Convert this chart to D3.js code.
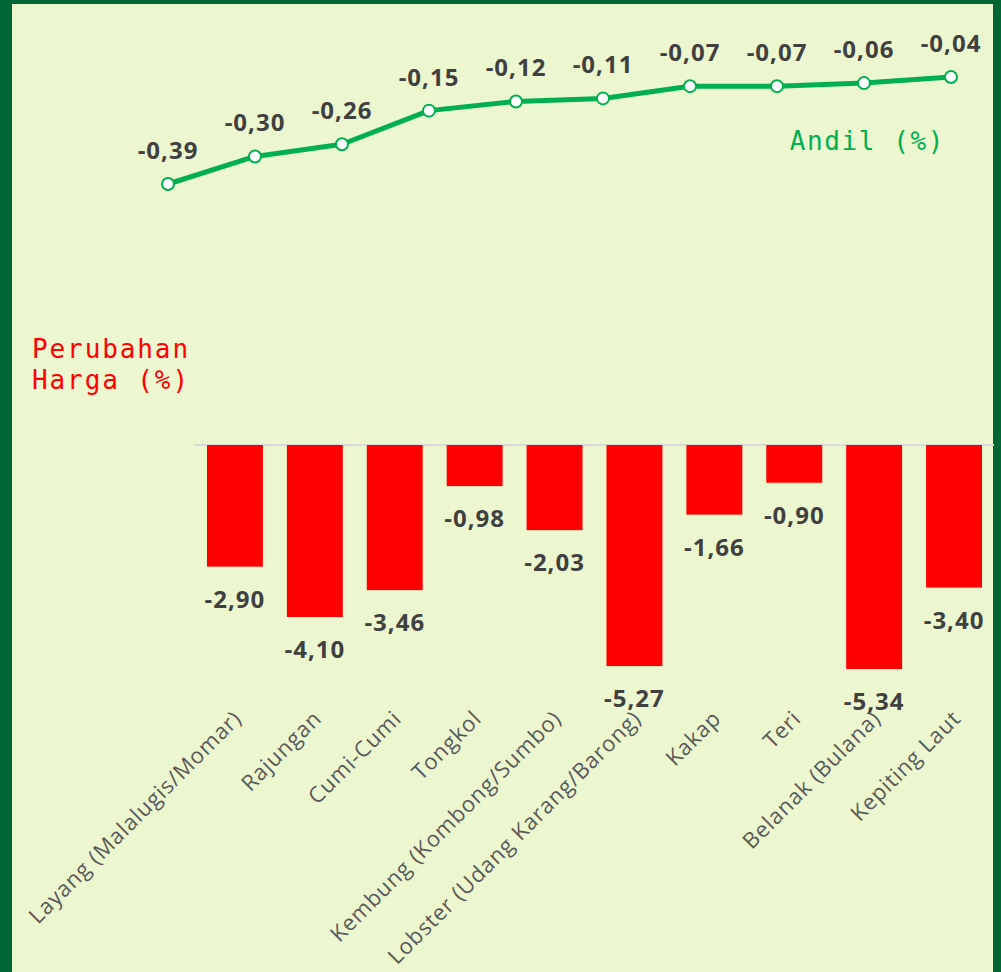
<!DOCTYPE html>
<html>
<head>
<meta charset="utf-8">
<script src="https://cdn.jsdelivr.net/npm/d3@7"></script>
<style>
  body { margin: 0; background: #006633; }
  svg { display: block; }
</style>
</head>
<body>
<div id="chart"></div>
<script>
(function() {
    // Data
    var categories = ["Layang (Malalugis/Momar)", "Rajungan", "Cumi-Cumi", "Tongkol",
        "Kembung (Kombong/Sumbo)", "Lobster (Udang Karang/Barong)", "Kakap", "Teri",
        "Belanak (Bulana)", "Kepiting Laut"];
    var andil = [-0.39, -0.30, -0.26, -0.15, -0.12, -0.11, -0.07, -0.07, -0.06, -0.04];
    var perubahan = [-2.90, -4.10, -3.46, -0.98, -2.03, -5.27, -1.66, -0.90, -5.34, -3.40];

    var width = 1001, height = 972;
    var fmt = function(v) { return v.toFixed(2).replace(".", ","); };

    var svg = d3.select("#chart")
        .append("svg")
        .attr("width", width)
        .attr("height", height);

    // Panel background
    svg.append("rect")
        .attr("x", 12).attr("y", 4)
        .attr("width", 981).attr("height", height)
        .attr("fill", "#EDF7CF");

    // Scales
    var xLine = d3.scalePoint().domain(categories).range([168, 951]);
    var yLine = d3.scaleLinear().domain([-0.39, -0.04]).range([184, 77]);

    var xBar = d3.scaleBand().domain(categories).range([195, 994]).paddingInner(0.3).paddingOuter(0.15);
    var yBar = d3.scaleLinear().domain([0, -5.34]).range([445, 669]);

    // Line series (Andil)
    var line = d3.line()
        .x(function(d, i) { return xLine(categories[i]); })
        .y(function(d) { return yLine(d); });

    svg.append("path")
        .datum(andil)
        .attr("d", line)
        .attr("fill", "none")
        .attr("stroke", "#00B050")
        .attr("stroke-width", 5)
        .attr("stroke-linejoin", "round");

    svg.selectAll(".dot")
        .data(andil)
        .enter().append("circle")
        .attr("class", "dot")
        .attr("cx", function(d, i) { return xLine(categories[i]); })
        .attr("cy", function(d) { return yLine(d); })
        .attr("r", 6)
        .attr("fill", "#ffffff")
        .attr("stroke", "#00B050")
        .attr("stroke-width", 2);

    svg.selectAll(".andil-label")
        .data(andil)
        .enter().append("text")
        .attr("class", "andil-label")
        .attr("x", function(d, i) { return xLine(categories[i]); })
        .attr("y", function(d) { return yLine(d) - 25; })
        .attr("text-anchor", "middle")
        .attr("font-family", "'Open Sans', sans-serif")
        .attr("font-weight", "bold")
        .attr("font-size", 24)
        .attr("letter-spacing", 1)
        .attr("fill", "#404040")
        .text(fmt);

    svg.append("text")
        .attr("x", 945).attr("y", 150)
        .attr("text-anchor", "end")
        .attr("font-family", "'DejaVu Sans Mono', monospace")
        .attr("font-size", 26)
        .attr("letter-spacing", 1.6)
        .attr("fill", "#00B050")
        .text("Andil (%)");

    // Bar series (Perubahan Harga)
    svg.append("line")
        .attr("x1", 195).attr("x2", 994)
        .attr("y1", yBar(0)).attr("y2", yBar(0))
        .attr("stroke", "#D9D9D9")
        .attr("stroke-width", 2);

    svg.selectAll(".bar")
        .data(perubahan)
        .enter().append("rect")
        .attr("class", "bar")
        .attr("x", function(d, i) { return xBar(categories[i]); })
        .attr("y", yBar(0))
        .attr("width", xBar.bandwidth())
        .attr("height", function(d) { return yBar(d) - yBar(0); })
        .attr("fill", "#FF0000");

    svg.selectAll(".bar-label")
        .data(perubahan)
        .enter().append("text")
        .attr("class", "bar-label")
        .attr("x", function(d, i) { return xBar(categories[i]) + xBar.bandwidth() / 2; })
        .attr("y", function(d) { return yBar(d) + 41; })
        .attr("text-anchor", "middle")
        .attr("font-family", "'Open Sans', sans-serif")
        .attr("font-weight", "bold")
        .attr("font-size", 24)
        .attr("letter-spacing", 1)
        .attr("fill", "#404040")
        .text(fmt);

    var title = svg.append("text")
        .attr("font-family", "'DejaVu Sans Mono', monospace")
        .attr("font-size", 26)
        .attr("letter-spacing", 1.9)
        .attr("fill", "#FF0000");
    title.append("tspan").attr("x", 32).attr("y", 358).text("Perubahan");
    title.append("tspan").attr("x", 32).attr("y", 389).text("Harga (%)");

    // Category axis labels, rotated
    svg.selectAll(".cat")
        .data(categories)
        .enter().append("text")
        .attr("class", "cat")
        .attr("transform", function(d) {
            var x = xBar(d) + xBar.bandwidth() / 2 + 8;
            return "translate(" + x + ",720) rotate(-45)";
        })
        .attr("text-anchor", "end")
        .attr("font-family", "'Open Sans', sans-serif")
        .attr("font-size", 22)
        .attr("letter-spacing", 0.8)
        .attr("fill", "#595959")
        .text(function(d) { return d; });
})();
</script>
</body>
</html>
